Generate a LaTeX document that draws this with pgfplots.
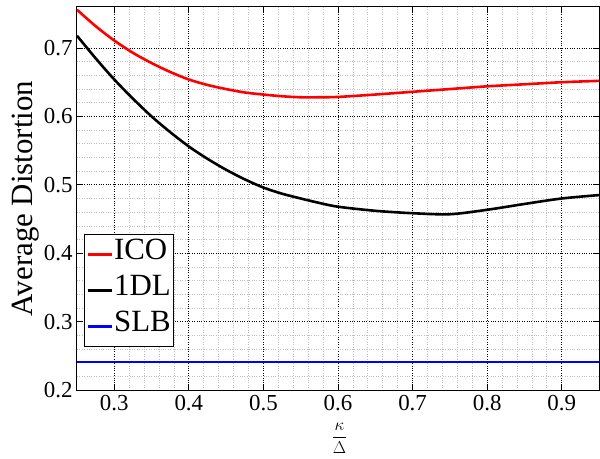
\documentclass[border=0pt]{standalone}
\usepackage{fontspec}
\setmainfont{Liberation Serif}
\usepackage{pgfplots}
\pgfplotsset{compat=1.18}
\begin{document}
\begin{tikzpicture}
\begin{axis}[
  scale only axis, width=522bp, height=383bp,
  xmin=0.25, xmax=0.95, ymin=0.2, ymax=0.76,
  xtick={0.3,0.4,0.5,0.6,0.7,0.8,0.9},
  ytick={0.2,0.3,0.4,0.5,0.6,0.7},
  minor x tick num=4, minor y tick num=4,
  grid=both,
  major grid style={black, dotted, line width=0.9bp},
  minor grid style={black!25, dotted, line width=0.7bp},
  tick align=inside, major tick length=6bp, minor tick length=0bp,
  tick style={black, line width=0.8bp},
  axis line style={line width=1bp},
  /pgf/number format/assume math mode=true,
  ticklabel style={font=\fontsize{23}{27}\selectfont},
  xticklabel style={yshift=-4bp, inner ysep=1bp},
  yticklabel style={xshift=-1bp},
  xlabel={$\displaystyle\frac{\kappa}{\Delta}$},
  xlabel style={font=\fontsize{19}{23}\selectfont, inner sep=0pt, at={(axis description cs:0.503,-0.126)}, anchor=center},
  ylabel={Average Distortion},
  ylabel style={font=\fontsize{31}{35}\selectfont, yshift=-2bp},
  legend cell align=left,
  legend image code/.code={\draw[#1] (0bp,0bp) -- (24bp,0bp);},
  legend style={at={(axis description cs:0.0134,0.112)}, anchor=south west,
    font=\fontsize{31}{35}\selectfont, draw=black, line width=1bp,
    inner xsep=2bp, inner ysep=2bp, row sep=0bp,
    nodes={inner sep=1bp, text height=22bp, text depth=12bp}},
]
\addplot[red, line width=2.6bp, smooth] coordinates {
(0.25,0.756) (0.275,0.732) (0.30,0.711) (0.325,0.693) (0.35,0.678)
(0.375,0.665) (0.40,0.654) (0.425,0.646) (0.45,0.640) (0.475,0.635)
(0.50,0.632) (0.525,0.6295) (0.55,0.628) (0.575,0.628) (0.60,0.6285)
(0.65,0.632) (0.70,0.636) (0.75,0.640) (0.80,0.644) (0.85,0.647)
(0.90,0.650) (0.95,0.652)};
\addlegendentry{ICO}
\addplot[black, line width=2.6bp, smooth] coordinates {
(0.25,0.718) (0.275,0.685) (0.30,0.654) (0.325,0.626) (0.35,0.600)
(0.375,0.577) (0.40,0.556) (0.425,0.538) (0.45,0.522) (0.475,0.508)
(0.50,0.496) (0.525,0.487) (0.55,0.480) (0.575,0.4735) (0.60,0.468)
(0.65,0.462) (0.70,0.4585) (0.75,0.457) (0.80,0.4635) (0.85,0.472)
(0.90,0.480) (0.95,0.485)};
\addlegendentry{1DL}
\addplot[blue, line width=2.6bp] coordinates {(0.25,0.241) (0.95,0.241)};
\addlegendentry{SLB}
\end{axis}
\pgfresetboundingbox
\path ([shift={(-77bp,-69bp)}]current axis.south west) rectangle ([shift={(1bp,7bp)}]current axis.north east);
\end{tikzpicture}
\end{document}
